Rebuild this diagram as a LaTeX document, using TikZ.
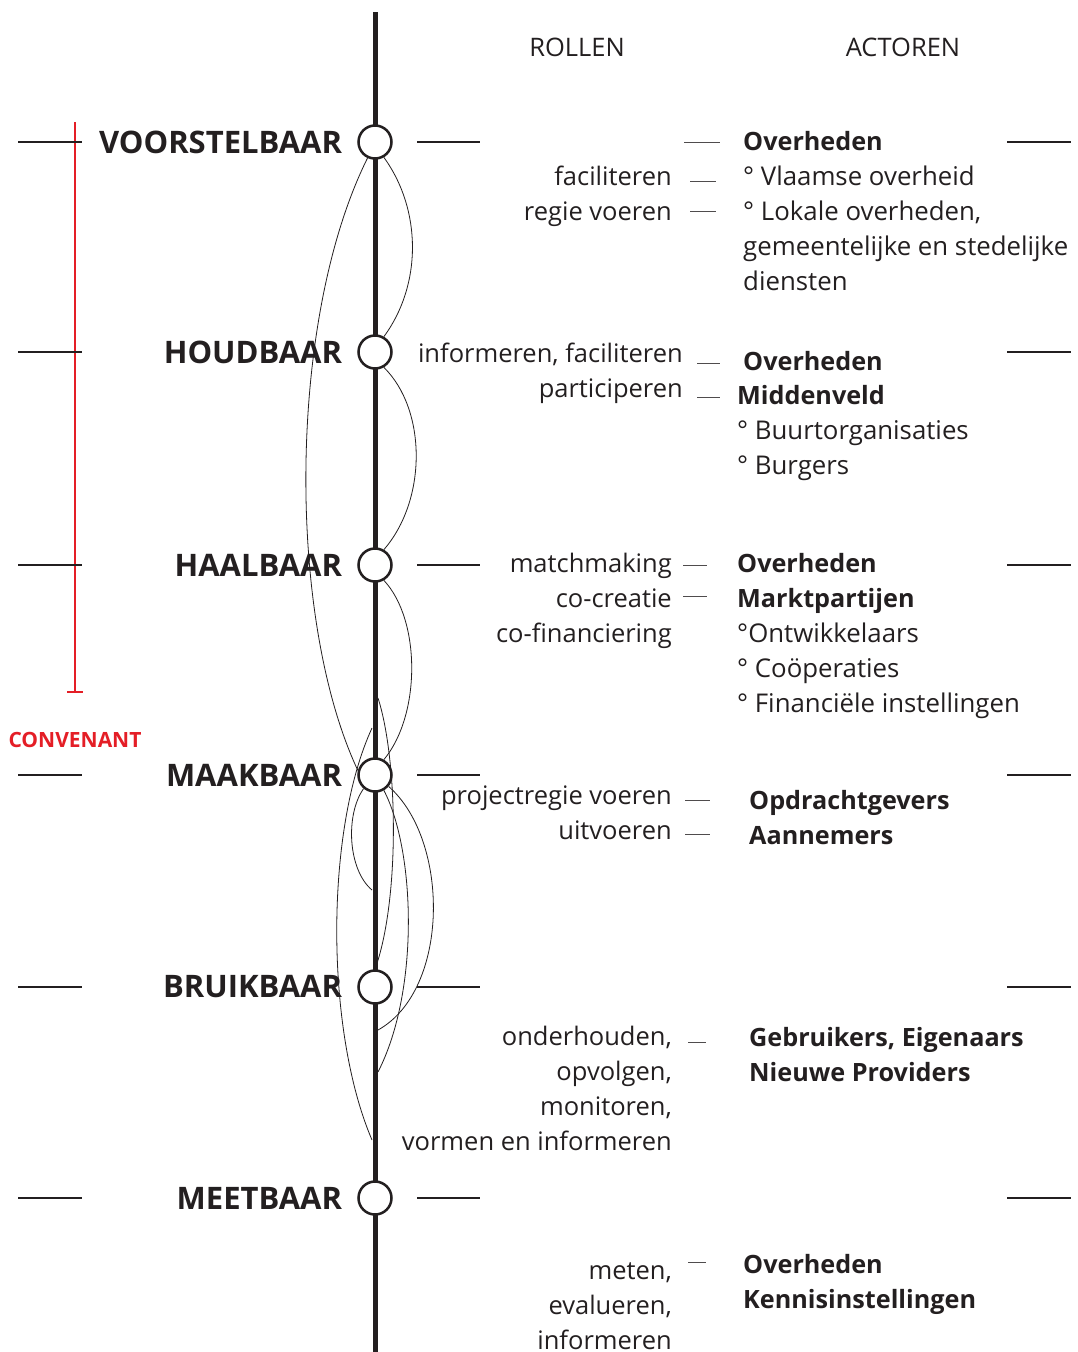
\documentclass[tikz,border=0pt]{standalone}
\usepackage{fontspec}
\setmainfont{Open Sans}
\usetikzlibrary{positioning,backgrounds}
\definecolor{convred}{RGB}{228,30,38}
\definecolor{inkline}{RGB}{35,31,32}

\begin{document}
\begin{tikzpicture}[x=1pt,y=-1pt,
      stadium/.style={
         circle,
         draw=inkline,
         fill=white,
         line width=2.5pt,
         inner sep=0pt,
         minimum size=33pt},
      stagetext/.style={
         inner sep=0pt,
         text=inkline,
         font=\bfseries\fontsize{31}{35}\selectfont},
      roltext/.style={
         inner sep=0pt,
         align=right,
         anchor=base east,
         text=inkline,
         font=\fontsize{25.5}{35}\selectfont},
      actortext/.style={
         inner sep=0pt,
         align=left,
         anchor=base west,
         text=inkline,
         font=\fontsize{25.8}{35}\selectfont},
      actorbold/.style={actortext, font=\bfseries\fontsize{25.2}{35}\selectfont},
      headtext/.style={text=inkline, font=\fontsize{25.5}{30}\selectfont},
      levelline/.style={draw=inkline, line width=1.6pt},
      smalldash/.style={draw=inkline!80, line width=0.7pt},
      spine/.style={draw=inkline, line width=5pt},
      link/.style={draw=inkline, line width=0.8pt}
      ]
      \useasboundingbox (0,0) rectangle (1077,1352);
      % fasen op de as
      \node[stadium] (v1) at (375,142) {};
      \node[stadium] (v2) at (375,352) {};
      \node[stadium] (v3) at (375,565) {};
      \node[stadium] (v4) at (375,775) {};
      \node[stadium] (v5) at (375,987) {};
      \node[stadium] (v6) at (375,1198) {};
      \node[stagetext, left=15pt of v1] (l1) {VOORSTELBAAR};
      \node[stagetext, left=15pt of v2] (l2) {HOUDBAAR};
      \node[stagetext, left=15pt of v3] (l3) {HAALBAAR};
      \node[stagetext, left=15pt of v4] (l4) {MAAKBAAR};
      \node[stagetext, left=15pt of v5] (l5) {BRUIKBAAR};
      \node[stagetext, left=15pt of v6] (l6) {MEETBAAR};
      \coordinate (top) at (375,12);
      \coordinate (bottom) at (375,1352);
      \coordinate (s1) at (378,698);
      \coordinate (s2) at (372,728);
      \coordinate (s3) at (372,890);
      \coordinate (s4) at (378,1030);
      \coordinate (s5) at (378,1072);
      \coordinate (s6) at (372,1140);
      % kolomtitels
      \node[headtext] (rollen) at (577,47) {ROLLEN};
      \node[headtext] (actoren) at (903,47) {ACTOREN};
      % rollen (base = laatste regel)
      \node[roltext] (r1) at (672,220) {faciliteren\\regie voeren};
      \node[roltext] (r2) at (683,397) {informeren, faciliteren\\participeren};
      \node[roltext] (r3) at (672,642) {matchmaking\\co-creatie\\co-financiering};
      \node[roltext] (r4) at (672,839) {projectregie voeren\\uitvoeren};
      \node[roltext] (r5) at (672,1150) {onderhouden,\\opvolgen,\\monitoren,\\vormen en informeren};
      \node[roltext] (r6) at (672,1349) {meten,\\evalueren,\\informeren};
      % actoren
      \node[actorbold] (a1) at (743,150) {Overheden};
      \node[actortext] (a1b) at (743,290) {° Vlaamse overheid\\° Lokale overheden,\\gemeentelijke en stedelijke\\diensten};
      \node[actorbold] (a2) at (743,370) {Overheden};
      \node[actorbold] (a2b) at (737,404) {Middenveld};
      \node[actortext] (a2c) at (737,474) {° Buurtorganisaties\\° Burgers};
      \node[actorbold] (a3) at (737,607) {Overheden\\Marktpartijen};
      \node[actortext] (a3b) at (737,712) {°Ontwikkelaars\\° Coöperaties\\° Financiële instellingen};
      \node[actorbold] (a4) at (749,844) {Opdrachtgevers\\Aannemers};
      \node[actorbold] (a5) at (749,1081) {Gebruikers, Eigenaars\\Nieuwe Providers};
      \node[actorbold] (a6) at (743,1308) {Overheden\\Kennisinstellingen};
      % convenant
      \node[text=convred, font=\bfseries\fontsize{21}{25}\selectfont] (conv) at (75,740) {CONVENANT};
      \draw[convred, line width=2pt] (75,122) -- (75,692);
      \draw[convred, line width=2pt] (67,692) -- (83,692);
    \foreach \y in {142,352,565,775,987,1198} {
      \draw[levelline] (18,\y) -- (82,\y);
      \draw[levelline] (1007,\y) -- (1071,\y);
    }
    \foreach \y in {142,565,775,987,1198}
      \draw[levelline] (417,\y) -- (480,\y);
    \foreach \xa/\xb/\y in {684/720/142, 690/716/181, 690/716/211,
      697/720/363, 697/720/397, 683/707/565, 683/707/596,
      685/710/800, 685/710/834, 688/706/1042, 688/706/1262}
      \draw[smalldash] (\xa,\y) -- (\xb,\y);
    \begin{pgfonlayer}{background}
      \draw[spine] (top) -- (bottom);
      \draw[link] (v1.-60) .. controls (422,210) and (422,285) .. (v2.60);
      \draw[link] (v1.-115) .. controls (287,320) and (287,620) .. (v4.165);
      \draw[link] (v2.-60) .. controls (427,410) and (427,500) .. (v3.60);
      \draw[link] (v3.-60) .. controls (421,620) and (421,715) .. (v4.60);
      \draw[link] (s1) .. controls (398,760) and (400,900) .. (v5.north);
      \draw[link] (s2) .. controls (325,830) and (325,1030) .. (s6);
      \draw[link] (v4.-130) .. controls (345,815) and (348,870) .. (s3);
      \draw[link] (v4.-60) .. controls (415,850) and (420,990) .. (s5);
      \draw[link] (v4.-40) .. controls (450,840) and (450,990) .. (s4);
    \end{pgfonlayer}
\end{tikzpicture}
\end{document}
